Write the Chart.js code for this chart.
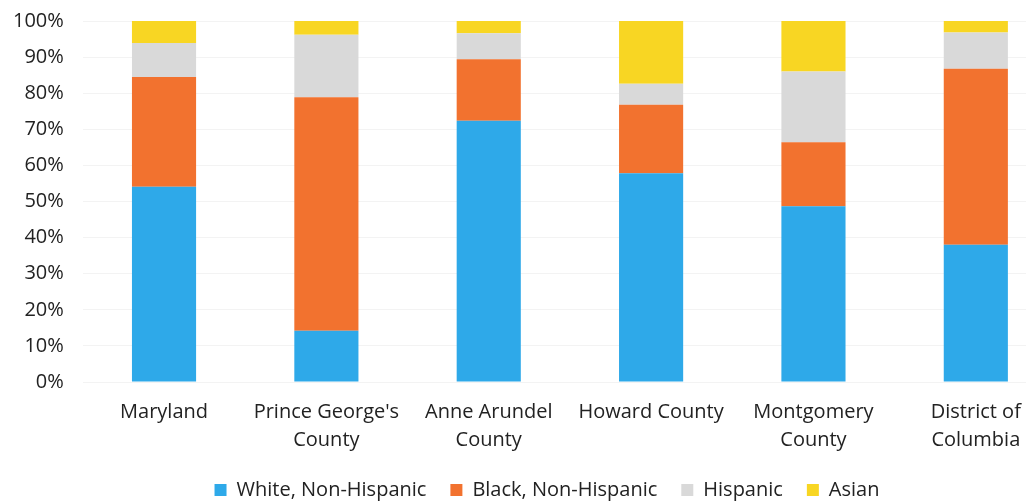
<!DOCTYPE html>
<html><head><meta charset="utf-8">
<script src="https://cdn.jsdelivr.net/npm/chart.js@4"></script>
<style>
html,body{margin:0;padding:0;background:#fff;overflow:hidden;width:1026px;height:501px;}
#wrap{position:relative;width:1095px;height:510px;}
</style></head>
<body>
<div id="wrap"><canvas id="c" width="1095" height="510"></canvas></div>
<script>
const categories = [["Maryland"], ["Prince George's", "County"], ["Anne Arundel", "County"], ["Howard County"], ["Montgomery", "County"], ["District of", "Columbia"]];
const seriesNames = ["White, Non-Hispanic", "Black, Non-Hispanic", "Hispanic", "Asian"];
const white    = [54.1, 14.2, 72.4, 57.8, 48.7, 38.0];
const black    = [30.4, 64.7, 17.0, 19.0, 17.7, 48.8];
const hispanic = [9.4, 17.3, 7.2, 5.8, 19.6, 10.0];
const asian    = [6.1, 3.8, 3.4, 17.4, 14.0, 3.2];
const yTicks = [0, 10, 20, 30, 40, 50, 60, 70, 80, 90, 100];
const colors = ["#2ea9e9", "#f2722f", "#d9d9d9", "#f8d623"];

const font = {family: "'Open Sans', sans-serif", size: 20};
const legendShift = {
  id: 'legendShift',
  afterLayout(chart) {
    const l = chart.legend; const dx = 12, dy = 2;
    l.left += dx; l.right += dx; l.top += dy; l.bottom += dy;
  }
};
new Chart(document.getElementById('c'), {
  type: 'bar',
  data: {
    labels: categories,
    datasets: [white, black, hispanic, asian].map((d, i) => ({
      label: seriesNames[i], data: d, backgroundColor: colors[i],
      borderWidth: 0, barPercentage: 0.79, categoryPercentage: 0.5
    }))
  },
  options: {
    responsive: false, animation: false,
    layout: {autoPadding: false, padding: {top: 21, right: 38, left: 13, bottom: 2}},
    plugins: {
      legend: {position: 'bottom', labels: {color: '#222', font: font, boxWidth: 12, boxHeight: 12, padding: 24}},
      tooltip: {enabled: false}
    },
    scales: {
      x: {stacked: true, grid: {display: false, tickLength: 16}, border: {display: false},
          ticks: {color: '#222', font: {...font, lineHeight: 1.4}, padding: 0, maxRotation: 0, autoSkip: false}},
      y: {stacked: true, min: 0, max: 100, border: {display: false},
          grid: {color: '#f3f3f3', drawTicks: true, tickLength: 19, tickColor: 'rgba(0,0,0,0)'},
          afterBuildTicks: ax => { ax.ticks = yTicks.map(v => ({value: v})); },
          ticks: {color: '#222', font: font, padding: 0, callback: v => v + '%'}}
    }
  },
  plugins: [legendShift]
});
</script>
</body></html>
